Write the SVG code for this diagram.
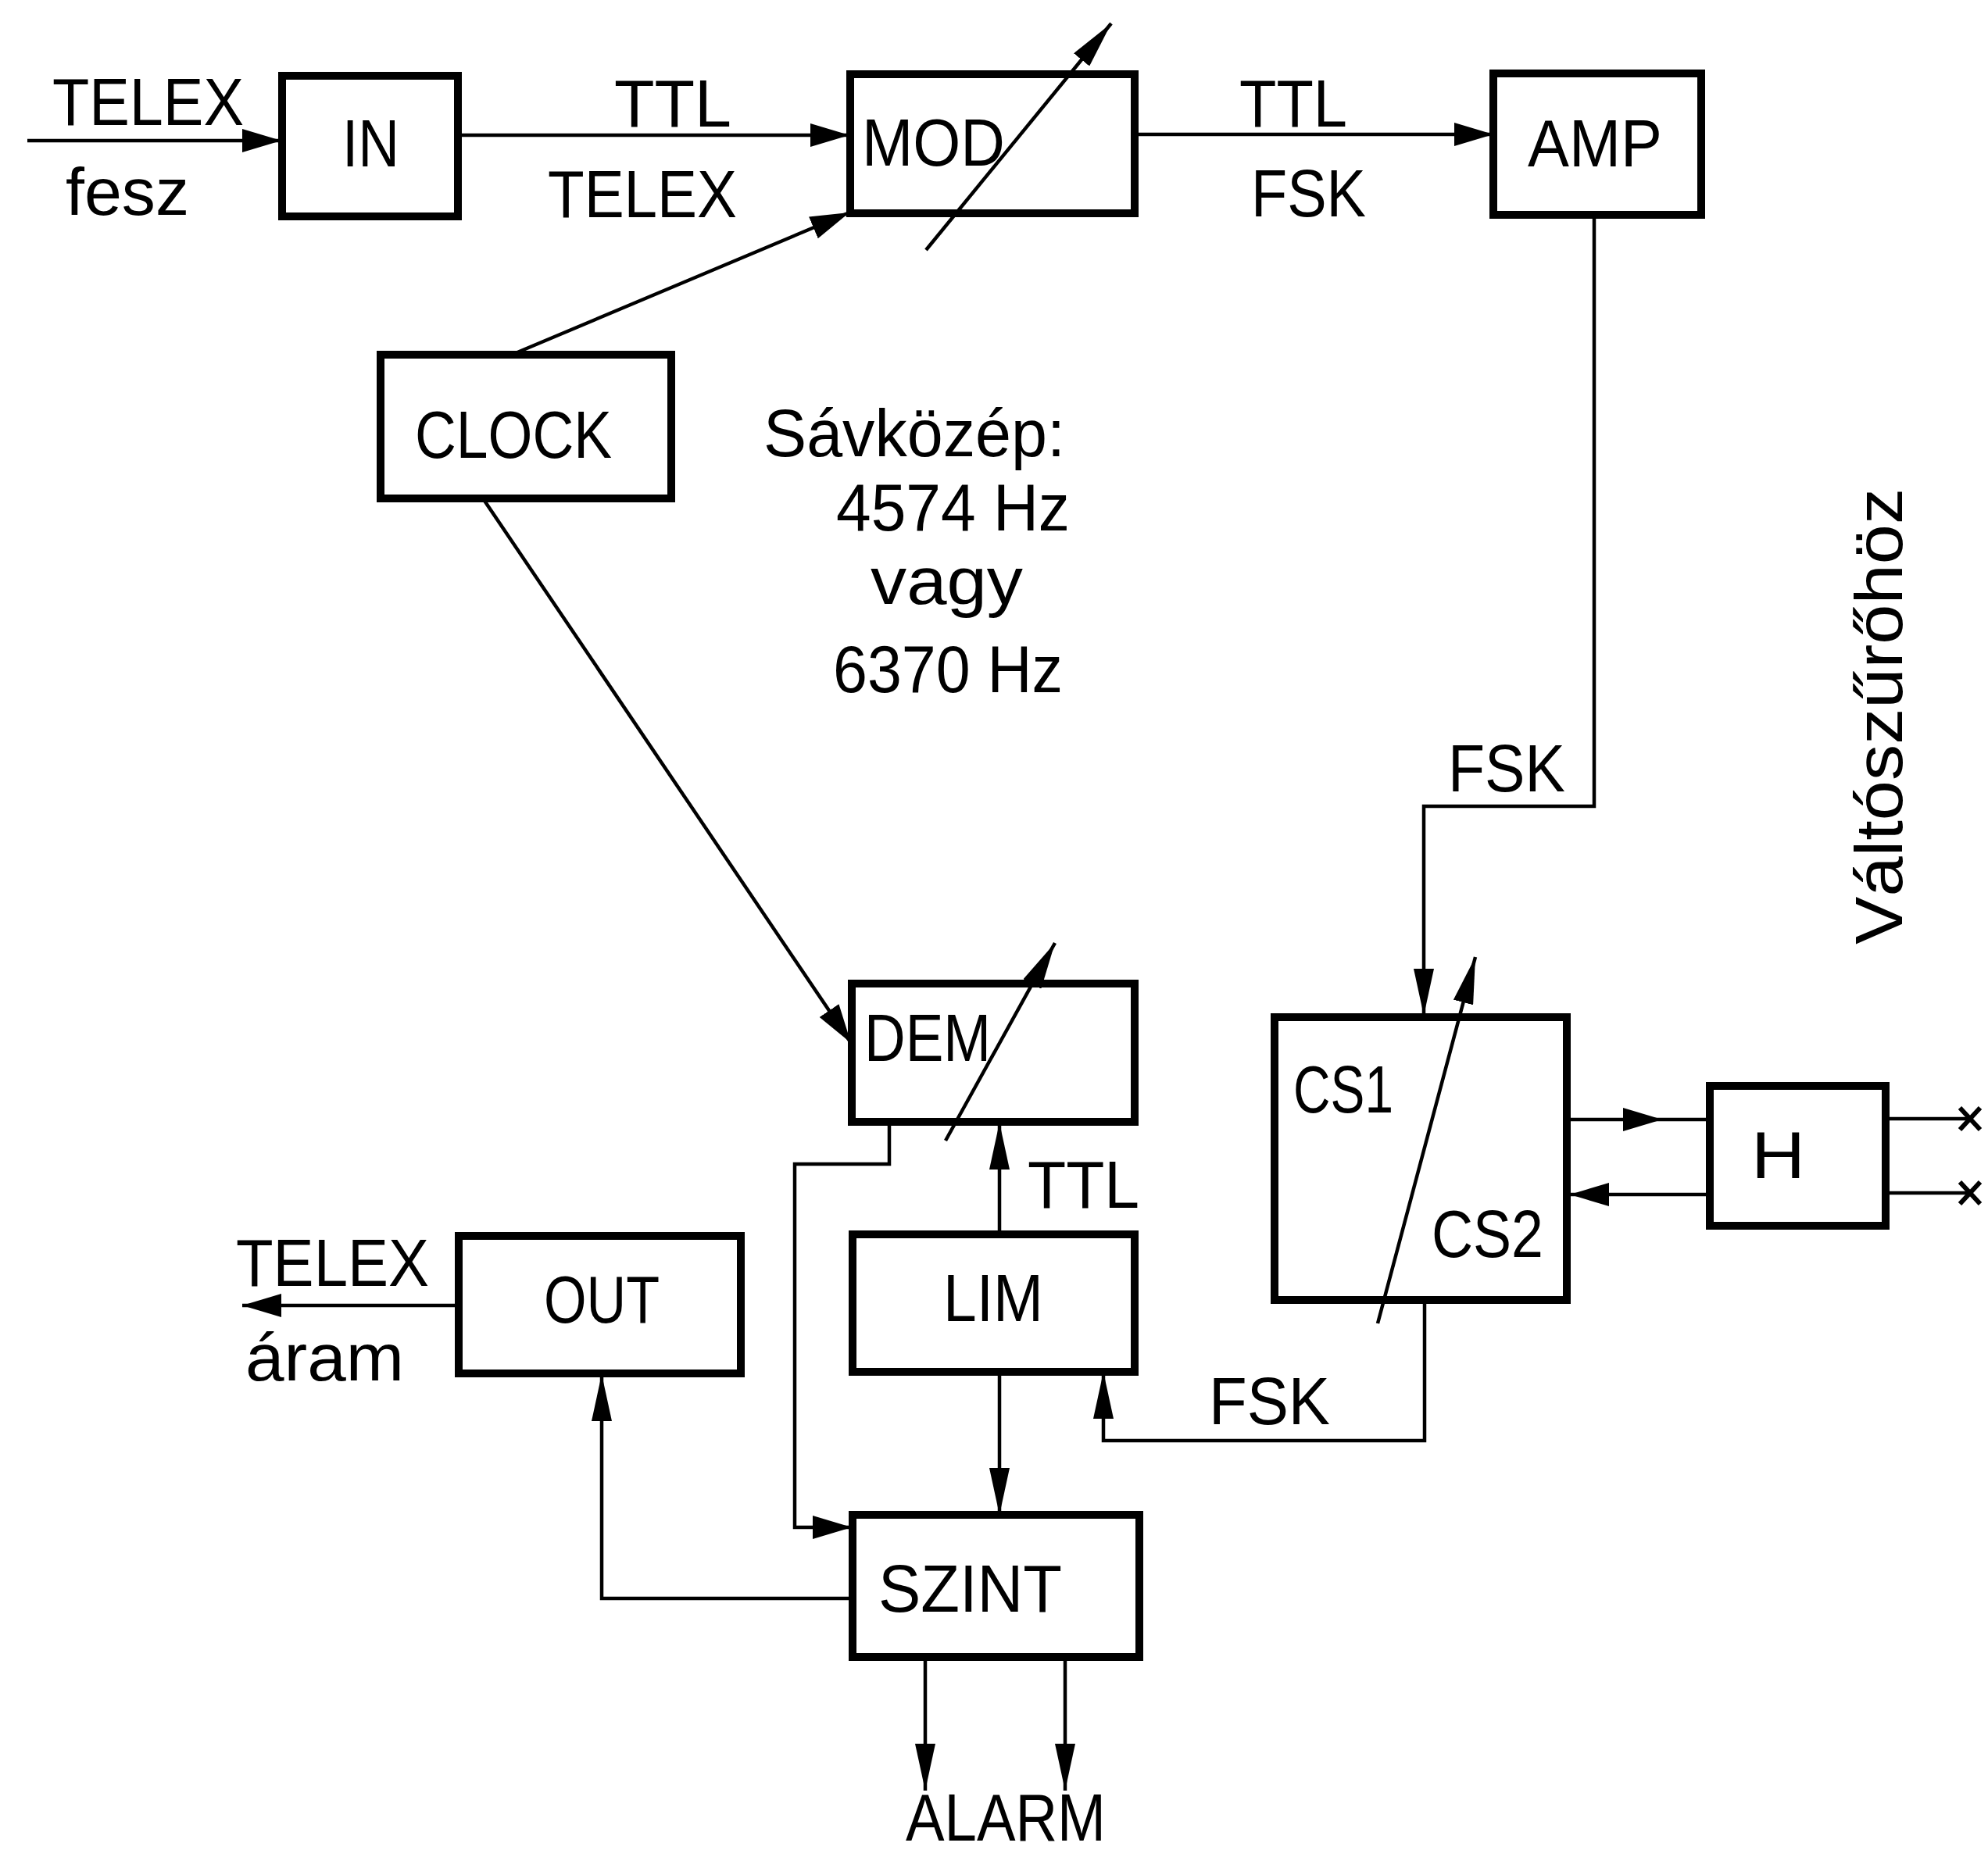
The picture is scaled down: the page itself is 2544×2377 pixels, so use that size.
<svg xmlns="http://www.w3.org/2000/svg" width="2544" height="2377" viewBox="0 0 2544 2377">
<style>
.box{fill:none;stroke:#000;stroke-width:10}
.ln{fill:none;stroke:#000;stroke-width:4.5}
.xm{fill:none;stroke:#000;stroke-width:6}
.t{font-family:"Liberation Sans",Arial,sans-serif;font-size:86px;fill:#000}
</style>
<defs>
<marker id="ah" viewBox="0 0 50 30" refX="50" refY="15" markerWidth="50" markerHeight="30" markerUnits="userSpaceOnUse" orient="auto">
<path d="M0,0 L50,15 L0,30 z" fill="#000"/>
</marker>
<marker id="ahs" viewBox="0 0 60 26" refX="60" refY="13" markerWidth="60" markerHeight="26" markerUnits="userSpaceOnUse" orient="auto">
<path d="M0,0 L60,13 L0,26 z" fill="#000"/>
</marker>
</defs>
<rect width="2544" height="2377" fill="#fff"/>

<g id="connectors">
<path class="ln" d="M35,180 L360,180" marker-end="url(#ah)"/>
<path class="ln" d="M587,173 L1087,173" marker-end="url(#ah)"/>
<path class="ln" d="M1452,172 L1911,172" marker-end="url(#ah)"/>
<path class="ln" d="M655,454 L1087,272" marker-end="url(#ah)"/>
<path class="ln" d="M1185,320 L1422,30" marker-end="url(#ahs)"/>
<path class="ln" d="M620,641 L1089,1335" marker-end="url(#ah)"/>
<path class="ln" d="M1210,1460 L1350,1207" marker-end="url(#ahs)"/>
<path class="ln" d="M2040,276 L2040,1032 L1822,1032 L1822,1300" marker-end="url(#ahs)"/>
<path class="ln" d="M1763,1694 L1888,1225" marker-end="url(#ahs)"/>
<path class="ln" d="M2004,1433 L2127,1433" marker-end="url(#ah)"/>
<path class="ln" d="M2127,1433 L2187,1433"/>
<path class="ln" d="M2187,1529 L2009,1529" marker-end="url(#ah)"/>
<path class="ln" d="M2413,1432 L2520,1432"/>
<path class="ln" d="M2413,1527 L2520,1527"/>
<path class="xm" d="M2508,1418 L2534,1446 M2534,1418 L2508,1446"/>
<path class="xm" d="M2508,1513 L2534,1541 M2534,1513 L2508,1541"/>
<path class="ln" d="M1279,1580 L1279,1437" marker-end="url(#ahs)"/>
<path class="ln" d="M1279,1756 L1279,1939" marker-end="url(#ahs)"/>
<path class="ln" d="M1823,1663 L1823,1844 L1412,1844 L1412,1756" marker-end="url(#ahs)"/>
<path class="ln" d="M1138,1436 L1138,1490 L1017,1490 L1017,1955 L1090,1955" marker-end="url(#ah)"/>
<path class="ln" d="M1090,2046 L770,2046 L770,1759" marker-end="url(#ahs)"/>
<path class="ln" d="M587,1671 L310,1671" marker-end="url(#ah)"/>
<path class="ln" d="M1184,2122 L1184,2292" marker-end="url(#ahs)"/>
<path class="ln" d="M1363,2122 L1363,2292" marker-end="url(#ahs)"/>
</g>

<g id="node-IN">
<rect class="box" x="361" y="97" width="225" height="180"/>
<text class="t" x="438" y="213" textLength="73" lengthAdjust="spacingAndGlyphs">IN</text>
</g>
<g id="node-MOD">
<rect class="box" x="1088" y="95" width="364" height="178"/>
<text class="t" x="1103" y="212" textLength="183" lengthAdjust="spacingAndGlyphs">MOD</text>
</g>
<g id="node-AMP">
<rect class="box" x="1911" y="94" width="266" height="181"/>
<text class="t" x="1955" y="213" textLength="172" lengthAdjust="spacingAndGlyphs">AMP</text>
</g>
<g id="node-CLOCK">
<rect class="box" x="487" y="454" width="372" height="184"/>
<text class="t" x="531" y="586" textLength="252" lengthAdjust="spacingAndGlyphs">CLOCK</text>
</g>
<g id="node-DEM">
<rect class="box" x="1090" y="1259" width="362" height="177"/>
<text class="t" x="1106" y="1358" font-size="82" textLength="162" lengthAdjust="spacingAndGlyphs">DEM</text>
</g>
<g id="node-CS">
<rect class="box" x="1631" y="1302" width="374" height="362"/>
<text class="t" x="1655" y="1424" textLength="128" lengthAdjust="spacingAndGlyphs">CS1</text>
<text class="t" x="1832" y="1609" textLength="143" lengthAdjust="spacingAndGlyphs">CS2</text>
</g>
<g id="node-H">
<rect class="box" x="2188" y="1390" width="225" height="179"/>
<text class="t" x="2241" y="1508" textLength="69" lengthAdjust="spacingAndGlyphs">H</text>
</g>
<g id="node-OUT">
<rect class="box" x="587" y="1582" width="361" height="176"/>
<text class="t" x="696" y="1693" textLength="148" lengthAdjust="spacingAndGlyphs">OUT</text>
</g>
<g id="node-LIM">
<rect class="box" x="1091" y="1580" width="361" height="176"/>
<text class="t" x="1207" y="1691" textLength="128" lengthAdjust="spacingAndGlyphs">LIM</text>
</g>
<g id="node-SZINT">
<rect class="box" x="1091" y="1939" width="367" height="182"/>
<text class="t" x="1124" y="2063" textLength="235" lengthAdjust="spacingAndGlyphs">SZINT</text>
</g>

<g id="labels">
<text class="t" x="67" y="160" textLength="245" lengthAdjust="spacingAndGlyphs">TELEX</text>
<text class="t" x="84" y="275" textLength="158" lengthAdjust="spacingAndGlyphs">fesz</text>
<text class="t" x="786" y="162" textLength="150" lengthAdjust="spacingAndGlyphs">TTL</text>
<text class="t" x="701" y="278" textLength="242" lengthAdjust="spacingAndGlyphs">TELEX</text>
<text class="t" x="1586" y="162" textLength="138" lengthAdjust="spacingAndGlyphs">TTL</text>
<text class="t" x="1601" y="277" textLength="147" lengthAdjust="spacingAndGlyphs">FSK</text>
<text class="t" x="977" y="584" textLength="386" lengthAdjust="spacingAndGlyphs">Sávközép:</text>
<text class="t" x="1070" y="679" textLength="299" lengthAdjust="spacingAndGlyphs">4574 Hz</text>
<text class="t" x="1114" y="773" textLength="195" lengthAdjust="spacingAndGlyphs">vagy</text>
<text class="t" x="1066" y="886" textLength="294" lengthAdjust="spacingAndGlyphs">6370 Hz</text>
<text class="t" x="1853" y="1013" textLength="150" lengthAdjust="spacingAndGlyphs">FSK</text>
<text class="t" x="1315" y="1546" textLength="143" lengthAdjust="spacingAndGlyphs">TTL</text>
<text class="t" x="302" y="1646" textLength="247" lengthAdjust="spacingAndGlyphs">TELEX</text>
<text class="t" x="314" y="1767" textLength="203" lengthAdjust="spacingAndGlyphs">áram</text>
<text class="t" x="1547" y="1823" textLength="155" lengthAdjust="spacingAndGlyphs">FSK</text>
<text class="t" x="1159" y="2356" font-size="80" textLength="256" lengthAdjust="spacingAndGlyphs">ALARM</text>
<text class="t" transform="translate(2434,1209) rotate(-90)" x="0" y="0" textLength="584" lengthAdjust="spacingAndGlyphs">Váltószűrőhöz</text>
</g>
</svg>
